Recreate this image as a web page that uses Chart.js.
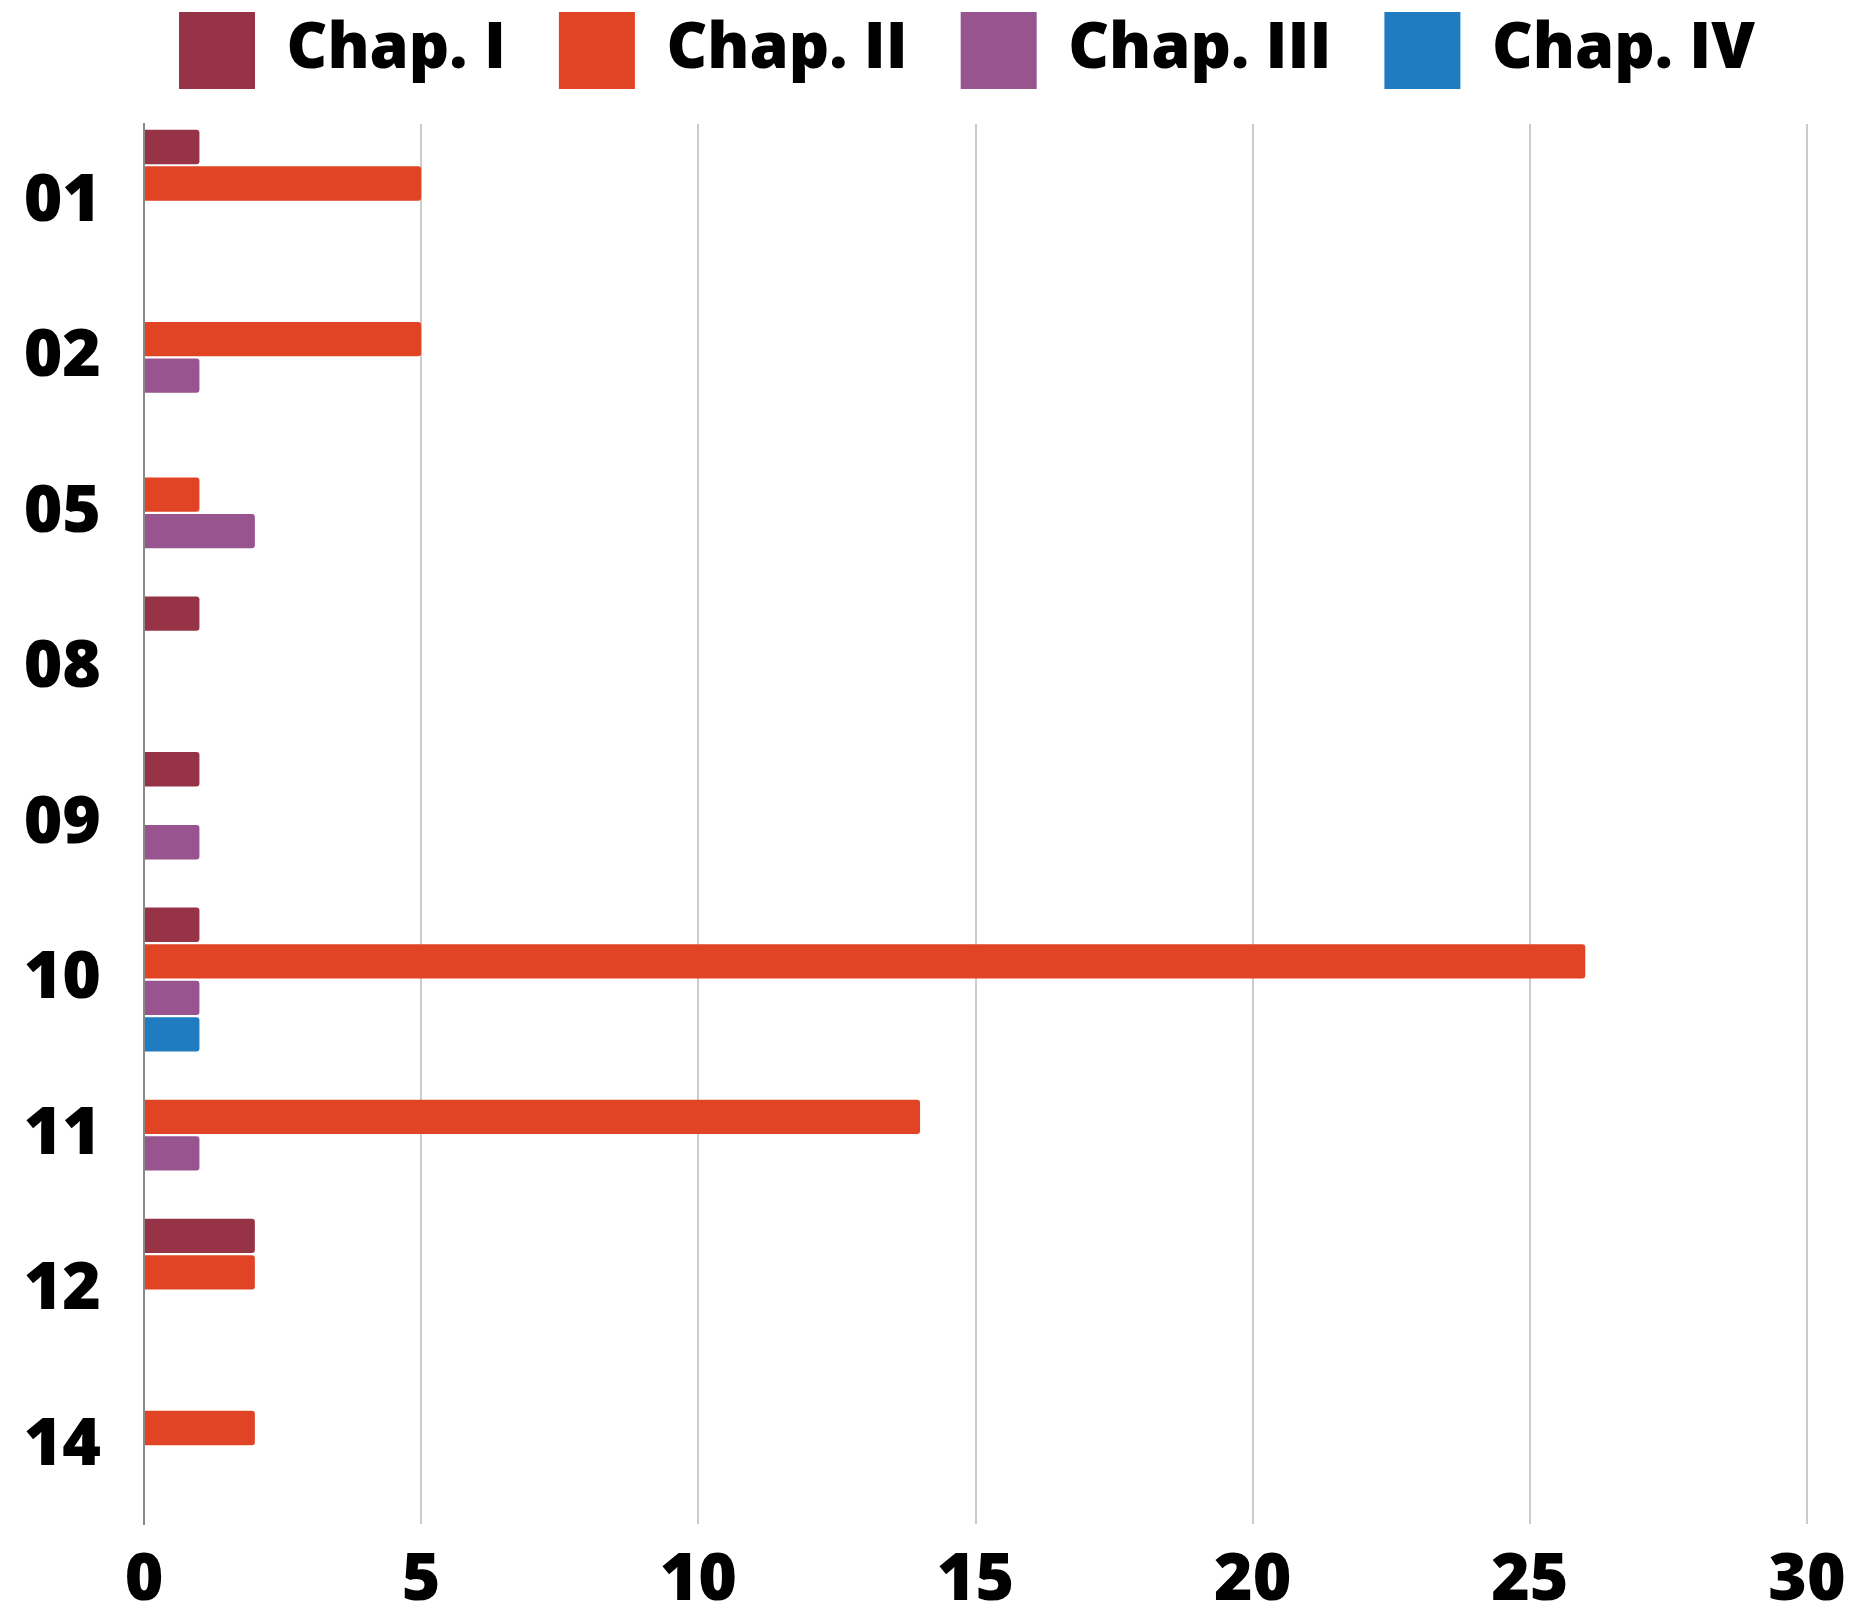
<!DOCTYPE html>
<html>
<head>
<meta charset="utf-8">
<script src="https://cdn.jsdelivr.net/npm/chart.js@4/dist/chart.umd.min.js"></script>
<style>
    html, body { margin: 0; padding: 0; background: #fff; }
    #wrap { width: 1852px; height: 1601px; }
</style>
</head>
<body>
<div id="wrap"><canvas id="chart" width="1852" height="1601"></canvas></div>
<script>
// Chapters per category (horizontal grouped bars)
const categories = ['01', '02', '05', '08', '09', '10', '11', '12', '14'];
const chap1 = [1, 0, 0, 1, 1, 1, 0, 2, 0];
const chap2 = [5, 5, 1, 0, 0, 26, 14, 2, 2];
const chap3 = [0, 1, 2, 0, 1, 1, 1, 0, 0];
const chap4 = [0, 0, 0, 0, 0, 1, 0, 0, 0];
const seriesNames = ['Chap. I', 'Chap. II', 'Chap. III', 'Chap. IV'];
const seriesColors = ['#963346', '#e04424', '#98548e', '#1f7cc1'];
const xTicks = [0, 5, 10, 15, 20, 25, 30];

const tickFont = { family: "'Open Sans', sans-serif", size: 66, weight: '800' };
const legendFont = { family: "'Open Sans', sans-serif", size: 63, weight: '800' };

// Legend: fixed height, and centred a bit right of the canvas middle
const legendTweak = {
    id: 'legendTweak',
    beforeInit(chart) {
        const fit = chart.legend.fit;
        chart.legend.fit = function () {
            fit.call(this);
            this.height = 165;
        };
    },
    afterLayout(chart) {
        chart.legend.left += 82;
    }
};

const datasets = [chap1, chap2, chap3, chap4].map((values, i) => ({
    label: seriesNames[i],
    data: values,
    backgroundColor: seriesColors[i],
    borderWidth: 0,
    borderRadius: 3,
    categoryPercentage: 0.939,
    barPercentage: 0.94
}));

new Chart(document.getElementById('chart'), {
    type: 'bar',
    data: { labels: categories, datasets },
    options: {
        indexAxis: 'y',
        responsive: false,
        animation: false,
        layout: { padding: { left: 0, right: 0, top: -41, bottom: 0 } },
        plugins: {
            legend: {
                position: 'top',
                labels: {
                    color: '#000',
                    font: legendFont,
                    boxWidth: 76,
                    boxHeight: 77,
                    padding: 53
                }
            },
            tooltip: { enabled: false }
        },
        scales: {
            x: {
                min: 0,
                max: 30,
                afterBuildTicks: (scale) => { scale.ticks = xTicks.map(v => ({ value: v })); },
                afterFit: (scale) => { scale.height = 77; scale.paddingRight = 45; },
                grid: { color: '#cccccc', lineWidth: 2, drawTicks: false },
                border: { display: false },
                ticks: { color: '#000', font: tickFont, padding: 18 }
            },
            y: {
                afterFit: (scale) => {
                    scale.width = 144;
                    scale.paddingTop = 0;
                    scale.paddingBottom = 0;
                },
                grid: { display: false, drawTicks: false },
                border: { color: '#888888', width: 2 },
                ticks: { color: '#000', font: tickFont, padding: 43 }
            }
        }
    },
    plugins: [legendTweak]
});
</script>
</body>
</html>
